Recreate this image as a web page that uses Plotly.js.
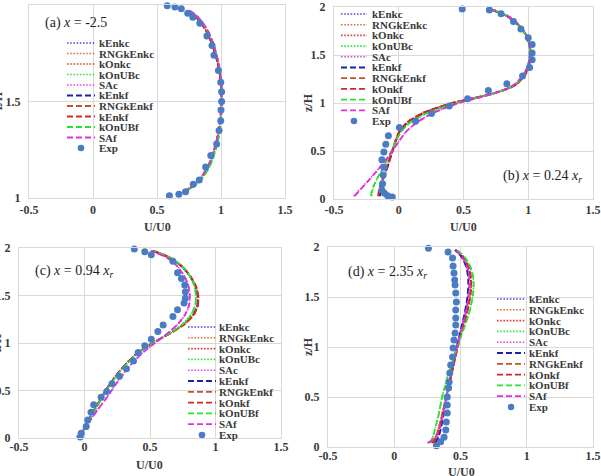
<!DOCTYPE html>
<html>
<head>
<meta charset="utf-8">
<script src="https://cdn.plot.ly/plotly-3.0.1.min.js"></script>
<style>
  html, body { margin: 0; padding: 0; background: #ffffff; }
  #chart { width: 601px; height: 476px; }
</style>
</head>
<body>
<div id="chart"></div>
<script>
// ---- Model names (order used for every panel) ----
const MODELS = ['kEnkc', 'RNGkEnkc', 'kOnkc', 'kOnUBc', 'SAc', 'kEnkf', 'RNGkEnkf', 'kOnkf', 'kOnUBf', 'SAf'];

// Legend labels as printed in each panel
const LABELS_A = ['kEnkc', 'RNGkEnkc', 'kOnkc', 'kOnUBc', 'SAc', 'kEnkf', 'RNGkEnkf', 'kEnkf', 'kOnUBf', 'SAf', 'Exp'];
const LABELS_BCD = ['kEnkc', 'RNGkEnkc', 'kOnkc', 'kOnUBc', 'SAc', 'kEnkf', 'RNGkEnkf', 'kOnkf', 'kOnUBf', 'SAf', 'Exp'];

// Axis ticks and titles
const X_TICKS = [-0.5, 0, 0.5, 1, 1.5];
const X_TICKTEXT = ['-0.5', '0', '0.5', '1', '1.5'];
const Y_TICKS_A = [1, 1.5, 2];
const Y_TICKTEXT_A = ['1', '1.5', '2'];
const Y_TICKS = [0, 0.5, 1, 1.5, 2];
const Y_TICKTEXT = ['0', '0.5', '1', '1.5', '2'];
const X_TITLE = 'U/U0';
const Y_TITLE = 'z/H';

// ---- (a) x = -2.5 ----
const zA = [1.03, 1.06, 1.1, 1.15, 1.2, 1.3, 1.4, 1.5, 1.6, 1.7, 1.8, 1.86, 1.91, 1.95, 1.97];
const uA = [
  [0.71, 0.78, 0.84, 0.89, 0.925, 0.97, 0.995, 1.005, 1.0, 0.975, 0.93, 0.89, 0.84, 0.785, 0.74],          // kEnkc
  [0.71, 0.78, 0.845, 0.893, 0.928, 0.972, 0.997, 1.006, 1.0, 0.976, 0.932, 0.893, 0.845, 0.79, 0.745],     // RNGkEnkc
  [0.70, 0.775, 0.838, 0.888, 0.922, 0.968, 0.993, 1.003, 0.998, 0.973, 0.928, 0.888, 0.838, 0.782, 0.737], // kOnkc
  [0.715, 0.785, 0.85, 0.9, 0.935, 0.978, 1.0, 1.008, 1.003, 0.98, 0.937, 0.898, 0.85, 0.795, 0.75],       // kOnUBc
  [0.70, 0.77, 0.835, 0.885, 0.92, 0.965, 0.992, 1.003, 1.0, 0.98, 0.94, 0.902, 0.855, 0.80, 0.755],       // SAc
  [0.705, 0.778, 0.84, 0.888, 0.924, 0.969, 0.994, 1.004, 0.999, 0.974, 0.929, 0.889, 0.84, 0.785, 0.74],  // kEnkf
  [0.712, 0.782, 0.846, 0.894, 0.929, 0.973, 0.998, 1.007, 1.001, 0.977, 0.933, 0.894, 0.846, 0.791, 0.746], // RNGkEnkf
  [0.702, 0.776, 0.839, 0.889, 0.923, 0.969, 0.994, 1.004, 0.999, 0.974, 0.929, 0.889, 0.839, 0.783, 0.738], // kOnkf
  [0.716, 0.786, 0.851, 0.901, 0.936, 0.979, 1.001, 1.009, 1.004, 0.981, 0.938, 0.899, 0.851, 0.796, 0.751], // kOnUBf
  [0.70, 0.772, 0.836, 0.886, 0.921, 0.966, 0.993, 1.004, 1.001, 0.981, 0.941, 0.903, 0.856, 0.801, 0.756]  // SAf
];
const expA_u = [0.597, 0.671, 0.723, 0.783, 0.83, 0.88, 0.92, 0.966, 0.985, 0.998, 1.0, 1.005, 1.005, 0.998, 0.98, 0.945, 0.93, 0.89, 0.835, 0.78, 0.74, 0.69, 0.64, 0.58];
const expA_z = [1.012, 1.019, 1.033, 1.071, 1.093, 1.16, 1.22, 1.28, 1.35, 1.40, 1.456, 1.50, 1.55, 1.60, 1.66, 1.74, 1.79, 1.84, 1.905, 1.936, 1.957, 1.98, 1.99, 1.996];

// ---- (b) x = 0.24 xr ----
const zB = [0.03, 0.1, 0.2, 0.3, 0.4, 0.5, 0.6, 0.7, 0.8, 0.9, 1.0, 1.05, 1.1, 1.15, 1.2, 1.3, 1.4, 1.5, 1.6, 1.7, 1.8, 1.9, 1.97];
const uB = [
  [-0.15, -0.14, -0.12, -0.095, -0.072, -0.048, -0.025, 0.005, 0.07, 0.2, 0.42, 0.58, 0.73, 0.84, 0.91, 0.975, 1.005, 1.015, 1.01, 0.985, 0.93, 0.84, 0.72],
  [-0.16, -0.15, -0.13, -0.1, -0.075, -0.05, -0.027, 0.003, 0.065, 0.19, 0.41, 0.575, 0.73, 0.845, 0.915, 0.98, 1.008, 1.018, 1.012, 0.987, 0.932, 0.842, 0.722],
  [-0.15, -0.145, -0.125, -0.098, -0.074, -0.05, -0.026, 0.004, 0.068, 0.195, 0.415, 0.578, 0.728, 0.84, 0.91, 0.975, 1.005, 1.015, 1.01, 0.985, 0.93, 0.84, 0.72],
  [-0.21, -0.2, -0.17, -0.13, -0.092, -0.056, -0.022, 0.018, 0.09, 0.23, 0.44, 0.59, 0.735, 0.84, 0.905, 0.97, 1.0, 1.012, 1.008, 0.985, 0.932, 0.845, 0.728],
  [-0.35, -0.3, -0.23, -0.165, -0.105, -0.05, 0.0, 0.055, 0.14, 0.27, 0.46, 0.6, 0.735, 0.835, 0.9, 0.965, 0.998, 1.01, 1.008, 0.988, 0.938, 0.852, 0.735],
  [-0.145, -0.138, -0.12, -0.094, -0.07, -0.047, -0.024, 0.006, 0.072, 0.2, 0.42, 0.582, 0.732, 0.842, 0.912, 0.976, 1.006, 1.016, 1.011, 0.986, 0.931, 0.841, 0.721],
  [-0.16, -0.152, -0.132, -0.102, -0.076, -0.051, -0.028, 0.002, 0.064, 0.19, 0.41, 0.576, 0.731, 0.846, 0.916, 0.981, 1.009, 1.019, 1.013, 0.988, 0.933, 0.843, 0.723],
  [-0.155, -0.148, -0.128, -0.099, -0.075, -0.05, -0.026, 0.004, 0.067, 0.195, 0.415, 0.578, 0.729, 0.841, 0.911, 0.976, 1.006, 1.016, 1.011, 0.986, 0.931, 0.841, 0.721],
  [-0.215, -0.205, -0.172, -0.132, -0.093, -0.057, -0.022, 0.018, 0.09, 0.23, 0.44, 0.592, 0.736, 0.841, 0.906, 0.971, 1.001, 1.013, 1.009, 0.986, 0.933, 0.846, 0.729],
  [-0.34, -0.295, -0.228, -0.163, -0.104, -0.049, 0.001, 0.056, 0.142, 0.272, 0.462, 0.602, 0.736, 0.836, 0.901, 0.966, 0.999, 1.011, 1.009, 0.989, 0.939, 0.853, 0.736]
];
const expB_u = [0.49, 0.70, 0.79, 0.886, 0.943, 1.0, 1.03, 1.03, 1.03, 1.01, 0.956, 0.835, 0.692, 0.532, 0.39, 0.253, 0.13, 0.005, -0.08, -0.10, -0.115, -0.13, -0.115, -0.12, -0.125, -0.13, -0.11, -0.085, -0.05];
const expB_z = [1.98, 1.97, 1.93, 1.85, 1.77, 1.68, 1.61, 1.52, 1.45, 1.37, 1.28, 1.20, 1.13, 1.045, 0.97, 0.89, 0.81, 0.745, 0.66, 0.57, 0.49, 0.41, 0.33, 0.25, 0.16, 0.094, 0.06, 0.035, 0.02];

// ---- (c) x = 0.94 xr ----
const zC = [0.01, 0.1, 0.2, 0.3, 0.4, 0.5, 0.6, 0.7, 0.8, 0.9, 1.0, 1.1, 1.2, 1.3, 1.4, 1.5, 1.6, 1.7, 1.8, 1.9, 1.97];
const uC = [
  [-0.04, -0.005, 0.035, 0.075, 0.12, 0.16, 0.21, 0.265, 0.33, 0.41, 0.52, 0.65, 0.76, 0.83, 0.86, 0.862, 0.845, 0.805, 0.745, 0.645, 0.52],
  [-0.035, 0.0, 0.04, 0.08, 0.122, 0.163, 0.212, 0.268, 0.333, 0.412, 0.522, 0.652, 0.765, 0.836, 0.866, 0.868, 0.85, 0.81, 0.75, 0.65, 0.525],
  [-0.04, -0.003, 0.037, 0.077, 0.12, 0.161, 0.21, 0.266, 0.331, 0.41, 0.52, 0.65, 0.762, 0.833, 0.864, 0.865, 0.848, 0.808, 0.748, 0.648, 0.522],
  [-0.035, 0.0, 0.04, 0.08, 0.123, 0.165, 0.215, 0.27, 0.335, 0.415, 0.525, 0.648, 0.75, 0.815, 0.845, 0.85, 0.838, 0.805, 0.75, 0.655, 0.53],
  [-0.06, 0.0, 0.05, 0.1, 0.155, 0.205, 0.255, 0.31, 0.37, 0.445, 0.54, 0.635, 0.715, 0.77, 0.8, 0.805, 0.795, 0.765, 0.715, 0.63, 0.51],
  [-0.038, -0.004, 0.036, 0.076, 0.12, 0.16, 0.21, 0.265, 0.33, 0.41, 0.52, 0.65, 0.762, 0.832, 0.862, 0.864, 0.847, 0.807, 0.747, 0.647, 0.521],
  [-0.034, 0.001, 0.041, 0.081, 0.123, 0.164, 0.213, 0.269, 0.334, 0.413, 0.523, 0.653, 0.766, 0.837, 0.867, 0.869, 0.851, 0.811, 0.751, 0.651, 0.526],
  [-0.039, -0.002, 0.038, 0.078, 0.121, 0.162, 0.211, 0.267, 0.332, 0.411, 0.521, 0.651, 0.763, 0.834, 0.865, 0.866, 0.849, 0.809, 0.749, 0.649, 0.523],
  [-0.034, 0.001, 0.041, 0.081, 0.124, 0.166, 0.216, 0.271, 0.336, 0.416, 0.526, 0.649, 0.751, 0.816, 0.846, 0.851, 0.839, 0.806, 0.751, 0.656, 0.531],
  [-0.055, 0.002, 0.052, 0.102, 0.157, 0.207, 0.257, 0.312, 0.372, 0.447, 0.538, 0.633, 0.713, 0.768, 0.798, 0.803, 0.793, 0.763, 0.713, 0.628, 0.508]
];
const expC_u = [0.38, 0.46, 0.51, 0.675, 0.71, 0.74, 0.765, 0.77, 0.77, 0.76, 0.71, 0.675, 0.60, 0.56, 0.51, 0.46, 0.41, 0.374, 0.32, 0.267, 0.21, 0.17, 0.127, 0.07, 0.05, 0.025, 0.013, -0.025, -0.033];
const expC_z = [1.99, 1.96, 1.93, 1.86, 1.74, 1.68, 1.61, 1.54, 1.47, 1.42, 1.35, 1.28, 1.19, 1.12, 1.04, 0.97, 0.90, 0.81, 0.73, 0.65, 0.57, 0.49, 0.43, 0.35, 0.27, 0.19, 0.12, 0.05, 0.01];

// ---- (d) x = 2.35 xr ----
const zD = [0.04, 0.1, 0.2, 0.3, 0.4, 0.5, 0.6, 0.7, 0.8, 0.9, 1.0, 1.1, 1.2, 1.3, 1.4, 1.5, 1.6, 1.7, 1.8, 1.9, 1.97];
const uD = [
  [0.30, 0.33, 0.35, 0.365, 0.38, 0.395, 0.41, 0.425, 0.44, 0.455, 0.47, 0.488, 0.507, 0.526, 0.542, 0.555, 0.562, 0.562, 0.548, 0.512, 0.46],
  [0.28, 0.31, 0.335, 0.355, 0.372, 0.39, 0.408, 0.425, 0.443, 0.46, 0.478, 0.497, 0.518, 0.538, 0.556, 0.57, 0.577, 0.575, 0.558, 0.518, 0.462],
  [0.29, 0.32, 0.342, 0.36, 0.377, 0.393, 0.41, 0.427, 0.444, 0.461, 0.479, 0.498, 0.519, 0.54, 0.558, 0.572, 0.58, 0.578, 0.56, 0.52, 0.463],
  [0.27, 0.29, 0.31, 0.33, 0.345, 0.36, 0.38, 0.40, 0.425, 0.45, 0.475, 0.5, 0.528, 0.554, 0.575, 0.59, 0.598, 0.594, 0.574, 0.53, 0.47],
  [0.25, 0.31, 0.34, 0.36, 0.376, 0.392, 0.408, 0.424, 0.44, 0.456, 0.472, 0.49, 0.51, 0.53, 0.546, 0.558, 0.565, 0.563, 0.548, 0.512, 0.458],
  [0.31, 0.335, 0.355, 0.37, 0.384, 0.398, 0.412, 0.427, 0.442, 0.457, 0.472, 0.489, 0.507, 0.525, 0.54, 0.552, 0.558, 0.557, 0.543, 0.508, 0.458],
  [0.285, 0.315, 0.338, 0.357, 0.374, 0.391, 0.409, 0.426, 0.444, 0.461, 0.479, 0.498, 0.519, 0.539, 0.557, 0.571, 0.578, 0.576, 0.559, 0.519, 0.463],
  [0.29, 0.322, 0.344, 0.362, 0.378, 0.394, 0.411, 0.428, 0.445, 0.462, 0.48, 0.499, 0.52, 0.541, 0.559, 0.573, 0.581, 0.579, 0.561, 0.521, 0.464],
  [0.272, 0.292, 0.312, 0.332, 0.347, 0.362, 0.382, 0.402, 0.427, 0.452, 0.477, 0.502, 0.53, 0.556, 0.577, 0.592, 0.6, 0.596, 0.576, 0.532, 0.472],
  [0.255, 0.312, 0.342, 0.362, 0.378, 0.394, 0.41, 0.426, 0.442, 0.458, 0.474, 0.492, 0.512, 0.532, 0.548, 0.56, 0.567, 0.565, 0.55, 0.514, 0.46]
];
const expD_u = [0.258, 0.406, 0.44, 0.444, 0.451, 0.456, 0.459, 0.464, 0.469, 0.464, 0.464, 0.464, 0.459, 0.451, 0.444, 0.44, 0.426, 0.419, 0.414, 0.41, 0.40, 0.40, 0.40, 0.393, 0.389, 0.376, 0.35, 0.318];
const expD_z = [1.987, 1.95, 1.89, 1.81, 1.74, 1.67, 1.62, 1.54, 1.45, 1.37, 1.29, 1.22, 1.14, 1.07, 0.99, 0.90, 0.82, 0.74, 0.65, 0.59, 0.50, 0.42, 0.34, 0.25, 0.17, 0.097, 0.053, 0.013];

// ---- Styling ----
const W = 601, H = 476;
const SERIF = 'Liberation Serif';
const TEXT_COLOR = '#3a3a3a';
const EXP_COLOR = '#4a7cc4';
const DOT = '1.6px,1.6px';
const DASH = '6px,3px';
const LINE_STYLE = {
  kEnkc:    { color: '#5548d8', dash: DOT,  width: 1.6 },
  RNGkEnkc: { color: '#e0703f', dash: DOT,  width: 1.6 },
  kOnkc:    { color: '#e23a3a', dash: DOT,  width: 1.6 },
  kOnUBc:   { color: '#3ee03e', dash: DOT,  width: 1.6 },
  SAc:      { color: '#e24ce2', dash: DOT,  width: 1.6 },
  kEnkf:    { color: '#1e1eb0', dash: DASH, width: 1.8 },
  RNGkEnkf: { color: '#c4532a', dash: DASH, width: 1.8 },
  kOnkf:    { color: '#d42626', dash: DASH, width: 1.8 },
  kOnUBf:   { color: '#2ee02e', dash: DASH, width: 1.8 },
  SAf:      { color: '#e22ce2', dash: DASH, width: 1.8 }
};

const bold = s => '<b>' + s + '</b>';

// Panel layout: axis ids, plotting area (px), title and legend placement (px)
const PANELS = [
  { xa: 'x',  ya: 'y',  z: zA, u: uA, eu: expA_u, ez: expA_z, yr: [1, 2], yt: Y_TICKS_A, ytt: Y_TICKTEXT_A,
    box: [29, 285, 5, 198], xStand: 1, xTitle: [157, 226.5], yTitle: [-2, 101], labels: LABELS_A,
    leg: { x0: 67, x1: 95, tx: 98, y0: 43, dy: 10.5 },
    note: { text: '(a) <i>x</i> = -2.5', x: 44, y: 23 } },
  { xa: 'x2', ya: 'y2', z: zB, u: uB, eu: expB_u, ez: expB_z, yr: [0, 2], yt: Y_TICKS, ytt: Y_TICKTEXT,
    box: [334, 593, 7, 199], xStand: 0, xTitle: [463, 227], yTitle: [308, 103], labels: LABELS_BCD,
    leg: { x0: 341, x1: 367, tx: 371, y0: 14, dy: 10.7 },
    note: { text: '(b) <i>x</i> = 0.24 <i>x<sub>r</sub></i>', x: 502, y: 176 } },
  { xa: 'x3', ya: 'y3', z: zC, u: uC, eu: expC_u, ez: expC_z, yr: [0, 2], yt: Y_TICKS, ytt: Y_TICKTEXT,
    box: [19, 281, 248, 438], xStand: -2, xTitle: [149, 465], yTitle: [-3, 343], labels: LABELS_BCD,
    leg: { x0: 188, x1: 216, tx: 218, y0: 327, dy: 10.8 },
    note: { text: '(c) <i>x</i> = 0.94 <i>x<sub>r</sub></i>', x: 34, y: 271 } },
  { xa: 'x4', ya: 'y4', z: zD, u: uD, eu: expD_u, ez: expD_z, yr: [0, 2], yt: Y_TICKS, ytt: Y_TICKTEXT,
    box: [328, 593, 247, 447], xStand: -2, xTitle: [461, 472], yTitle: [308, 347], labels: LABELS_BCD,
    leg: { x0: 497, x1: 525, tx: 528, y0: 299, dy: 10.8 },
    note: { text: '(d) <i>x</i> = 2.35 <i>x<sub>r</sub></i>', x: 347, y: 272 } }
];

const px = v => v / W;
const py = v => 1 - v / H;

const traces = [];
const shapes = [];
const annotations = [];
const layout = {
  width: W, height: H,
  margin: { l: 0, r: 0, t: 0, b: 0 },
  paper_bgcolor: '#ffffff',
  plot_bgcolor: '#ffffff',
  showlegend: false,
  shapes: shapes,
  annotations: annotations
};

const titleFont = { family: SERIF, size: 12, color: TEXT_COLOR };

PANELS.forEach(p => {
  MODELS.forEach((m, i) => {
    const s = LINE_STYLE[m];
    traces.push({
      type: 'scatter', mode: 'lines', name: m,
      x: p.u[i], y: p.z, xaxis: p.xa, yaxis: p.ya,
      line: { color: s.color, width: s.width, dash: s.dash, shape: 'spline', smoothing: 0.6 },
      hoverinfo: 'skip'
    });
  });
  traces.push({
    type: 'scatter', mode: 'markers', name: 'Exp',
    x: p.eu, y: p.ez, xaxis: p.xa, yaxis: p.ya,
    marker: { color: EXP_COLOR, size: 7 },
    cliponaxis: false,
    hoverinfo: 'skip'
  });

  const xKey = p.xa === 'x' ? 'xaxis' : 'xaxis' + p.xa.slice(1);
  const yKey = p.ya === 'y' ? 'yaxis' : 'yaxis' + p.ya.slice(1);
  const axisCommon = {
    showgrid: true, gridcolor: '#d9d9d9', gridwidth: 1,
    showline: true, linecolor: '#d9d9d9', linewidth: 1, mirror: true,
    zeroline: false, ticks: '',
    tickfont: { family: SERIF, size: 12, color: TEXT_COLOR },
    fixedrange: true
  };
  layout[xKey] = Object.assign({}, axisCommon, {
    domain: [px(p.box[0]), px(p.box[1])],
    anchor: p.ya, range: [-0.5, 1.5],
    tickmode: 'array', tickvals: X_TICKS, ticktext: X_TICKTEXT.map(bold),
    ticklabelstandoff: p.xStand
  });
  layout[yKey] = Object.assign({}, axisCommon, {
    domain: [py(p.box[3]), py(p.box[2])],
    anchor: p.xa, range: p.yr,
    tickmode: 'array', tickvals: p.yt, ticktext: p.ytt.map(bold),
    ticklabelstandoff: 5
  });

  // Axis titles placed in paper space so they may run off the page edge
  annotations.push({
    xref: 'paper', yref: 'paper', x: px(p.xTitle[0]), y: py(p.xTitle[1]),
    xanchor: 'center', yanchor: 'middle', showarrow: false,
    text: bold(X_TITLE), borderpad: 0, font: titleFont
  });
  annotations.push({
    xref: 'paper', yref: 'paper', x: px(p.yTitle[0]), y: py(p.yTitle[1]),
    xanchor: 'center', yanchor: 'middle', showarrow: false, textangle: -90,
    text: bold(Y_TITLE), borderpad: 0, font: titleFont
  });

  // Legend: line samples drawn as paper shapes, labels as annotations
  p.labels.forEach((lab, k) => {
    const yy = py(p.leg.y0 + k * p.leg.dy);
    if (k < MODELS.length) {
      const s = LINE_STYLE[MODELS[k]];
      shapes.push({
        type: 'line', xref: 'paper', yref: 'paper',
        x0: px(p.leg.x0), x1: px(p.leg.x1), y0: yy, y1: yy,
        line: { color: s.color, width: s.width, dash: s.dash }
      });
    } else {
      const cx = (p.leg.x0 + p.leg.x1) / 2, cy = p.leg.y0 + k * p.leg.dy, r = 3.3;
      shapes.push({
        type: 'circle', xref: 'paper', yref: 'paper',
        x0: px(cx - r), x1: px(cx + r), y0: py(cy + r), y1: py(cy - r),
        fillcolor: EXP_COLOR, line: { width: 0 }
      });
    }
    annotations.push({
      xref: 'paper', yref: 'paper', x: px(p.leg.tx), y: yy,
      xanchor: 'left', yanchor: 'middle', showarrow: false,
      text: bold(lab), borderpad: 0,
      font: { family: SERIF, size: 11, color: TEXT_COLOR }
    });
  });

  annotations.push({
    xref: 'paper', yref: 'paper', x: px(p.note.x), y: py(p.note.y),
    xanchor: 'left', yanchor: 'middle', showarrow: false,
    text: p.note.text, borderpad: 0,
    font: { family: SERIF, size: 14, color: '#222222' }
  });
});

Plotly.newPlot('chart', traces, layout, { staticPlot: true, displayModeBar: false });
</script>
</body>
</html>
